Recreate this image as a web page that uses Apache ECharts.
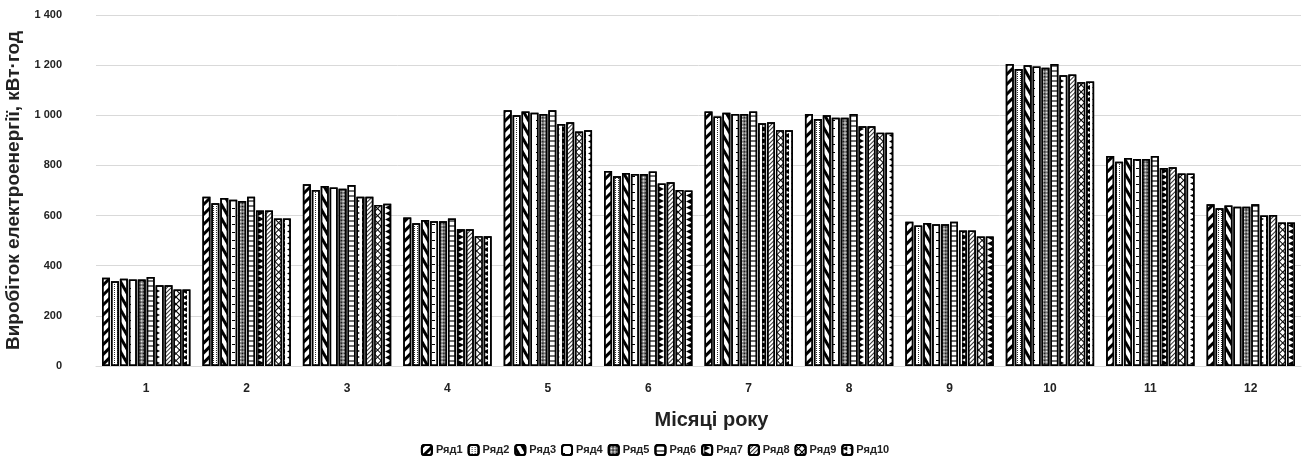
<!DOCTYPE html>
<html>
<head>
<meta charset="utf-8">
<script src="https://cdn.jsdelivr.net/npm/echarts@6/dist/echarts.min.js"></script>
<style>
  html, body { margin: 0; padding: 0; background: #fff; }
  #chart { width: 1310px; height: 475px; }
</style>
</head>
<body>
<div id="chart"></div>
<script>
// місяці
const months = ["1", "2", "3", "4", "5", "6", "7", "8", "9", "10", "11", "12"];
const seriesNames = ["Ряд1", "Ряд2", "Ряд3", "Ряд4", "Ряд5", "Ряд6", "Ряд7", "Ряд8", "Ряд9", "Ряд10"];
const yTicks = [0, 200, 400, 600, 800, 1000, 1200, 1400];

// значення по рядах, кВт·год
const row1 = [352, 675, 725, 592, 1020, 778, 1015, 1005, 575, 1205, 838, 645];
const row2 = [338, 649, 702, 569, 1000, 757, 995, 985, 560, 1185, 815, 629];
const row3 = [348, 670, 718, 582, 1015, 770, 1010, 1000, 570, 1200, 830, 640];
const row4 = [345, 663, 712, 577, 1010, 766, 1005, 990, 565, 1195, 826, 635];
const row5 = [345, 658, 707, 577, 1005, 766, 1005, 990, 565, 1190, 826, 635];
const row6 = [355, 675, 722, 588, 1020, 776, 1015, 1005, 575, 1205, 838, 645];
const row7 = [322, 620, 675, 545, 965, 728, 968, 956, 540, 1160, 790, 600];
const row8 = [322, 620, 675, 545, 972, 733, 972, 956, 540, 1163, 793, 602];
const row9 = [305, 588, 642, 518, 935, 702, 940, 930, 517, 1132, 768, 572];
const row10 = [305, 588, 647, 518, 940, 700, 940, 930, 517, 1135, 768, 572];
const rows = [row1, row2, row3, row4, row5, row6, row7, row8, row9, row10];

// візерунки заливки (чорно-білі, як у Excel)
const decals = [
    { symbol: "rect", dashArrayX: [1, 0], dashArrayY: [3, 4], rotation: -Math.PI / 4, color: "#000" },
    { symbol: "rect", dashArrayX: [1, 2], dashArrayY: [1, 1], color: "#000" },
    { symbol: "rect", dashArrayX: [1, 0], dashArrayY: [3, 4], rotation: Math.PI / 3, color: "#000" },
    { symbol: "rect", dashArrayX: [3, 5], dashArrayY: [1, 7], color: "#000" },
    { symbol: "rect", dashArrayX: [[1, 1], [0, 1, 1, 0]], dashArrayY: [1, 0], color: "#000" },
    { symbol: "rect", dashArrayX: [1, 0], dashArrayY: [2, 3], color: "#000" },
    { symbol: "triangle", dashArrayX: [6, 0], dashArrayY: [6, 2], rotation: Math.PI / 2, color: "#000" },
    { symbol: "rect", dashArrayX: [1, 0], dashArrayY: [1, 2], rotation: -Math.PI / 4, color: "#000" },
    { symbol: "rect", dashArrayX: [4, 1], dashArrayY: [4, 1], color: "#fff" },
    { symbol: "triangle", dashArrayX: [5, 1], dashArrayY: [5, 2], rotation: -Math.PI / 2, color: "#000" },
];
const fills = ["#fff", "#fff", "#fff", "#fff", "#fff", "#fff", "#fff", "#fff", "#000", "#fff"];

const chart = echarts.init(document.getElementById("chart"));

const option = {
    animation: false,
    aria: { enabled: true, decal: { show: true } },
    textStyle: { fontFamily: "Liberation Sans, Arial, sans-serif" },
    grid: { left: 96, right: 9, top: 15, bottom: 109, containLabel: false, outerBoundsMode: "none" },
    legend: {
        bottom: 14,
        left: "center",
        itemWidth: 10,
        itemHeight: 10,
        itemGap: 5,
        data: seriesNames,
        textStyle: { fontWeight: "bold", fontSize: 11, color: "#222", padding: [0, 0, 0, -1] },
    },
    xAxis: {
        type: "category",
        data: months,
        axisTick: { show: false },
        axisLine: { lineStyle: { color: "#d9d9d9" } },
        axisLabel: { color: "#222", fontWeight: "bold", fontSize: 12, margin: 17 },
        name: "Місяці року",
        nameLocation: "middle",
        nameGap: 44,
        nameTextStyle: { fontWeight: "bold", fontSize: 20, color: "#222", padding: [0, 0, 0, 26] },
    },
    yAxis: {
        type: "value",
        min: yTicks[0],
        max: yTicks[yTicks.length - 1],
        interval: 200,
        axisLine: { show: false },
        axisTick: { show: false },
        splitLine: { lineStyle: { color: "#d9d9d9" } },
        axisLabel: {
            color: "#222",
            fontWeight: "bold",
            fontSize: 11,
            margin: 34,
            formatter: (v) => String(v).replace(/\B(?=(\d{3})+(?!\d))/g, " "),
        },
        name: "Виробіток електроенергії, кВт·год",
        nameLocation: "middle",
        nameGap: 63,
        nameTextStyle: { fontWeight: "bold", fontSize: 19, color: "#222" },
    },
    series: seriesNames.map((name, i) => ({
        name: name,
        type: "bar",
        data: rows[i],
        barGap: "12%",
        barCategoryGap: "12%",
        itemStyle: {
            color: fills[i],
            borderColor: "#000",
            borderWidth: 1.5,
            decal: decals[i],
        },
    })),
};

chart.setOption(option);
</script>
</body>
</html>
